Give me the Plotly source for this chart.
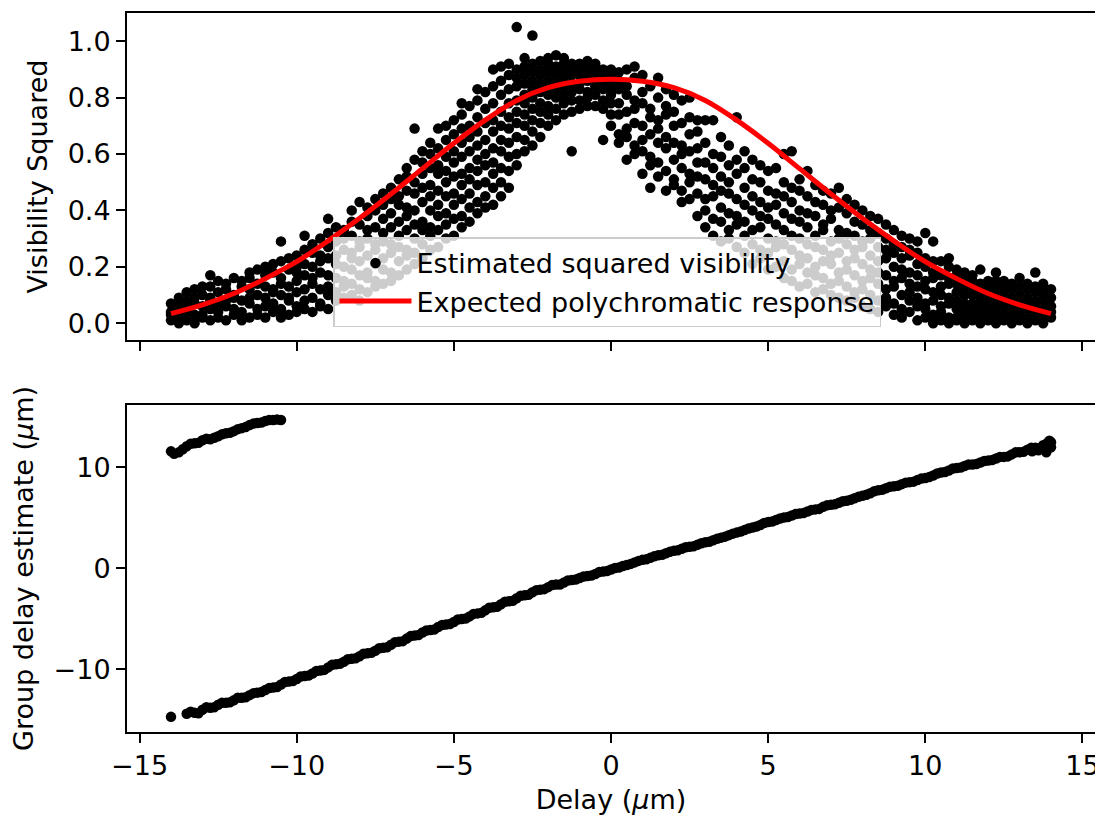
import plotly.graph_objects as go

# ---------------- data ----------------
# delay positions (micrometres) of the sampled columns of the visibility scatter
delay_grid = [
    -14.0, -13.75, -13.5, -13.25, -13.0, -12.75, -12.5, -12.25, -12.0, -11.75,
    -11.5, -11.25, -11.0, -10.75, -10.5, -10.25, -10.0, -9.75, -9.5, -9.25,
    -9.0, -8.75, -8.5, -8.25, -8.0, -7.75, -7.5, -7.25, -7.0, -6.75,
    -6.5, -6.25, -6.0, -5.75, -5.5, -5.25, -5.0, -4.75, -4.5, -4.25,
    -4.0, -3.75, -3.5, -3.25, -3.0, -2.75, -2.5, -2.25, -2.0, -1.75,
    -1.5, -1.25, -1.0, -0.75, -0.5, -0.25, 0.0, 0.25, 0.5, 0.75,
    1.0, 1.25, 1.5, 1.75, 2.0, 2.25, 2.5, 2.75, 3.0, 3.25,
    3.5, 3.75, 4.0, 4.25, 4.5, 4.75, 5.0, 5.25, 5.5, 5.75,
    6.0, 6.25, 6.5, 6.75, 7.0, 7.25, 7.5, 7.75, 8.0, 8.25,
    8.5, 8.75, 9.0, 9.25, 9.5, 9.75, 10.0, 10.25, 10.5, 10.75,
    11.0, 11.25, 11.5, 11.75, 12.0, 12.25, 12.5, 12.75, 13.0, 13.25,
    13.5, 13.75, 14.0,
]

# estimated squared visibility samples in each column (hundredths)
vis_samples = [
    [1, 3, 4, 7], [0, 2, 6, 9, 5], [1, 4, 5, 8, 11], [0, 3, 7, 9, 12],
    [2, 3, 6, 10, 13], [1, 5, 8, 9, 13, 17], [2, 4, 7, 11, 15], [1, 6, 8, 12, 14],
    [3, 5, 9, 10, 16], [1, 4, 8, 13, 15], [2, 7, 9, 12, 16, 18], [3, 5, 10, 14, 19],
    [2, 6, 9, 13, 17, 20], [4, 7, 11, 12, 18, 21], [2, 5, 10, 14, 16, 22, 29], [3, 8, 9, 13, 19, 23],
    [4, 6, 11, 15, 18, 20, 24], [5, 8, 12, 17, 21, 26, 31], [4, 9, 14, 16, 20, 25, 28], [6, 7, 12, 18, 22, 24, 30],
    [5, 10, 13, 17, 23, 27, 32, 37], [8, 11, 16, 21, 24, 29, 34], [9, 13, 15, 20, 26, 30, 33], [10, 14, 19, 23, 25, 31, 36, 40],
    [8, 12, 17, 22, 27, 29, 35, 43], [11, 16, 18, 24, 30, 33, 38, 41], [13, 15, 21, 26, 28, 34, 40, 44], [14, 19, 23, 29, 32, 37, 42, 46],
    [15, 18, 25, 28, 34, 39, 44, 48], [17, 22, 27, 31, 36, 42, 45, 51], [19, 24, 26, 33, 38, 41, 47, 52, 55], [21, 25, 30, 35, 40, 46, 50, 58, 69],
    [23, 28, 33, 36, 43, 48, 53, 57, 61], [26, 31, 34, 40, 45, 49, 55, 60, 64], [27, 33, 38, 42, 47, 53, 56, 62, 69], [30, 35, 39, 45, 50, 54, 59, 65, 70],
    [31, 37, 42, 46, 52, 57, 61, 67, 72], [34, 38, 44, 49, 53, 59, 64, 69, 74, 78], [36, 41, 46, 51, 55, 61, 66, 70, 77], [39, 43, 49, 54, 58, 63, 68, 73, 79, 83],
    [41, 45, 50, 56, 60, 65, 71, 76, 82], [42, 48, 53, 57, 62, 68, 72, 78, 84, 90], [45, 50, 55, 61, 65, 70, 75, 81, 86, 91], [48, 54, 59, 64, 69, 73, 78, 83, 88, 92],
    [56, 60, 66, 71, 75, 79, 84, 87, 90, 105], [61, 65, 70, 74, 78, 81, 85, 88, 91, 94], [63, 68, 72, 76, 80, 83, 86, 89, 92, 102], [66, 71, 75, 78, 82, 85, 88, 90, 93],
    [70, 74, 77, 81, 84, 86, 89, 92, 94], [72, 76, 80, 83, 85, 88, 91, 95], [74, 78, 81, 84, 87, 89, 92, 94], [61, 75, 79, 82, 85, 88, 90, 92],
    [76, 79, 83, 85, 88, 90, 92], [77, 80, 82, 86, 88, 91, 93], [77, 81, 84, 86, 89, 92], [65, 76, 79, 83, 86, 88, 90],
    [70, 74, 78, 81, 84, 87, 90], [64, 67, 74, 78, 83, 86, 89], [58, 66, 69, 75, 81, 84, 90], [60, 63, 71, 76, 79, 87, 91],
    [53, 61, 65, 70, 78, 82, 88], [48, 56, 59, 67, 73, 76, 84], [52, 57, 64, 69, 72, 80, 87], [47, 54, 62, 66, 74, 77, 83],
    [49, 51, 58, 64, 70, 75, 81], [43, 47, 55, 60, 63, 71, 79], [44, 50, 53, 61, 67, 73, 80], [38, 46, 52, 57, 62, 68, 72],
    [34, 40, 44, 51, 57, 64, 72], [31, 37, 45, 49, 55, 60, 72], [29, 36, 41, 47, 52, 59, 66], [30, 33, 39, 46, 50, 56, 63],
    [27, 35, 38, 44, 53, 58, 73], [25, 31, 36, 42, 48, 55, 61], [21, 28, 33, 40, 45, 51, 58], [23, 26, 34, 38, 43, 50, 56],
    [19, 25, 30, 37, 41, 47, 54], [20, 27, 29, 35, 42, 46, 55], [16, 22, 28, 33, 39, 45, 50, 60], [15, 19, 26, 31, 37, 43, 48, 61],
    [13, 21, 24, 30, 36, 40, 47, 51], [14, 18, 23, 28, 34, 39, 45, 54], [11, 17, 20, 27, 31, 38, 43, 49], [12, 16, 22, 26, 33, 35, 42, 47],
    [10, 14, 21, 24, 29, 37, 40, 46], [9, 15, 18, 25, 30, 33, 41, 48], [8, 13, 19, 22, 28, 32, 39, 44], [9, 11, 17, 23, 26, 31, 36, 42],
    [6, 12, 15, 21, 27, 29, 35, 40], [5, 10, 16, 19, 24, 30, 33, 38], [4, 8, 14, 18, 22, 27, 32, 37], [6, 9, 12, 17, 23, 26, 30, 35],
    [3, 7, 13, 15, 20, 25, 28, 33], [2, 5, 10, 16, 19, 23, 27, 31], [4, 8, 11, 14, 18, 24, 26, 30], [1, 6, 9, 13, 17, 21, 25, 29],
    [2, 5, 7, 12, 15, 20, 23, 32], [0, 3, 8, 11, 16, 18, 22, 29], [1, 4, 6, 10, 13, 17, 22], [0, 2, 7, 9, 14, 16, 20, 23],
    [1, 2, 5, 8, 11, 14, 17, 19], [0, 3, 5, 7, 10, 13, 16, 18], [1, 2, 4, 7, 10, 12, 15, 17], [0, 2, 4, 6, 9, 12, 14, 19],
    [1, 3, 5, 8, 11, 13, 15], [0, 2, 4, 7, 10, 12, 15, 18], [1, 3, 6, 8, 11, 13, 15], [0, 2, 4, 7, 9, 12, 14],
    [1, 3, 5, 8, 10, 13, 16], [0, 2, 5, 7, 9, 12, 14], [1, 3, 6, 8, 11, 13, 18], [0, 2, 4, 7, 10, 12, 14],
    [2, 4, 6, 9, 12],
]

# expected polychromatic response (red curve)
curve_delay = [-14, -13, -12, -11, -10, -9, -8, -7, -6, -5, -4, -3, -2, -1, 0,
               1, 2, 3, 4, 5, 6, 7, 8, 9, 10, 11, 12, 13, 14]
curve_vis = [0.034, 0.065, 0.105, 0.158, 0.218, 0.292, 0.372, 0.458, 0.548, 0.638,
             0.720, 0.790, 0.835, 0.858, 0.865, 0.858, 0.835, 0.790, 0.720, 0.638,
             0.548, 0.458, 0.372, 0.292, 0.218, 0.158, 0.105, 0.065, 0.034]

# group delay estimate, main branch
gd_main_delay = [
    -14.0, -13.5, -13.25, -13.0, -12.75, -12.5, -12.25, -12.0, -11.75,
    -11.5, -11.25, -11.0, -10.75, -10.5, -10.25, -10.0, -9.75, -9.5, -9.25,
    -9.0, -8.75, -8.5, -8.25, -8.0, -7.75, -7.5, -7.25, -7.0, -6.75,
    -6.5, -6.25, -6.0, -5.75, -5.5, -5.25, -5.0, -4.75, -4.5, -4.25,
    -4.0, -3.75, -3.5, -3.25, -3.0, -2.75, -2.5, -2.25, -2.0, -1.75,
    -1.5, -1.25, -1.0, -0.75, -0.5, -0.25, 0.0, 0.25, 0.5, 0.75,
    1.0, 1.25, 1.5, 1.75, 2.0, 2.25, 2.5, 2.75, 3.0, 3.25,
    3.5, 3.75, 4.0, 4.25, 4.5, 4.75, 5.0, 5.25, 5.5, 5.75,
    6.0, 6.25, 6.5, 6.75, 7.0, 7.25, 7.5, 7.75, 8.0, 8.25,
    8.5, 8.75, 9.0, 9.25, 9.5, 9.75, 10.0, 10.25, 10.5, 10.75,
    11.0, 11.25, 11.5, 11.75, 12.0, 12.25, 12.5, 12.75, 13.0, 13.25,
    13.5, 13.75, 14.0,
]
gd_main = [
    -14.7, -14.4, -14.3, -14.0, -13.8, -13.5, -13.3, -13.05, -12.8,
    -12.55, -12.3, -12.05, -11.8, -11.5, -11.2, -10.95, -10.65, -10.4, -10.1,
    -9.8, -9.5, -9.25, -8.95, -8.7, -8.4, -8.15, -7.85, -7.55, -7.25,
    -6.95, -6.65, -6.35, -6.1, -5.8, -5.55, -5.3, -5.0, -4.75, -4.45,
    -4.15, -3.85, -3.55, -3.25, -2.95, -2.65, -2.35, -2.1, -1.85, -1.6,
    -1.4, -1.15, -0.95, -0.75, -0.55, -0.3, -0.1, 0.1, 0.35, 0.6,
    0.85, 1.05, 1.3, 1.5, 1.75, 1.95, 2.15, 2.35, 2.6, 2.8,
    3.05, 3.3, 3.55, 3.8, 4.05, 4.3, 4.6, 4.8, 5.05, 5.25,
    5.45, 5.65, 5.85, 6.1, 6.3, 6.5, 6.7, 6.95, 7.2, 7.45,
    7.75, 7.95, 8.15, 8.35, 8.55, 8.75, 8.95, 9.2, 9.5, 9.7,
    9.95, 10.15, 10.3, 10.5, 10.7, 10.9, 11.05, 11.3, 11.5, 11.75,
    11.95, 12.2, 12.5,
]
# additional samples of the main branch between the columns above
gd_mid_delay = [
    -13.375, -13.125, -12.875, -12.625, -12.375, -12.125, -11.875, -11.625, -11.375, -11.125,
    -10.875, -10.625, -10.375, -10.125, -9.875, -9.625, -9.375, -9.125, -8.875, -8.625,
    -8.375, -8.125, -7.875, -7.625, -7.375, -7.125, -6.875, -6.625, -6.375, -6.125,
    -5.875, -5.625, -5.375, -5.125, -4.875, -4.625, -4.375, -4.125, -3.875, -3.625,
    -3.375, -3.125, -2.875, -2.625, -2.375, -2.125, -1.875, -1.625, -1.375, -1.125,
    -0.875, -0.625, -0.375, -0.125, 0.125, 0.375, 0.625, 0.875, 1.125, 1.375,
    1.625, 1.875, 2.125, 2.375, 2.625, 2.875, 3.125, 3.375, 3.625, 3.875,
    4.125, 4.375, 4.625, 4.875, 5.125, 5.375, 5.625, 5.875, 6.125, 6.375,
    6.625, 6.875, 7.125, 7.375, 7.625, 7.875, 8.125, 8.375, 8.625, 8.875,
    9.125, 9.375, 9.625, 9.875, 10.125, 10.375, 10.625, 10.875, 11.125, 11.375,
    11.625, 11.875, 12.125, 12.375, 12.625, 12.875, 13.125, 13.375, 13.625, 13.875,
]
gd_mid = [
    -14.2, -14.35, -13.75, -13.75, -13.3, -13.25, -12.8, -12.75, -12.35, -12.25,
    -11.85, -11.75, -11.25, -11.15, -10.7, -10.6, -10.15, -10.05, -9.55, -9.45,
    -9.0, -8.9, -8.45, -8.35, -7.9, -7.8, -7.3, -7.2, -6.7, -6.6,
    -6.15, -6.05, -5.6, -5.5, -5.05, -4.95, -4.5, -4.4, -3.9, -3.8,
    -3.3, -3.2, -2.7, -2.6, -2.15, -2.05, -1.65, -1.6, -1.2, -1.1,
    -0.8, -0.7, -0.35, -0.25, 0.05, 0.25, 0.45, 0.75, 0.9, 1.2,
    1.35, 1.65, 1.8, 2.1, 2.2, 2.5, 2.65, 2.95, 3.15, 3.45,
    3.65, 3.95, 4.15, 4.5, 4.65, 4.95, 5.1, 5.4, 5.5, 5.8,
    5.9, 6.25, 6.35, 6.65, 6.8, 7.1, 7.3, 7.65, 7.8, 8.1,
    8.2, 8.5, 8.6, 8.9, 9.05, 9.4, 9.55, 9.9, 10.0, 10.3,
    10.35, 10.65, 10.75, 11.05, 11.1, 11.5, 11.55, 11.95, 11.9, 12.4,
]
# scattered points at the right end of the main branch
gd_end_delay = [13.6, 13.85, 13.95, 14.0, 13.4]
gd_end = [11.7, 11.5, 12.65, 12.0, 11.6]

# wrapped branch (top-left of the lower panel)
gd_wrap_delay = [-14.0, -13.9, -13.75, -13.625, -13.5, -13.375, -13.25, -13.125, -13.0, -12.875,
                 -12.75, -12.625, -12.5, -12.375, -12.25, -12.125, -12.0, -11.875, -11.75, -11.625,
                 -11.5, -11.375, -11.25, -11.125, -11.0, -10.875, -10.75, -10.625, -10.5]
gd_wrap = [11.6, 11.35, 11.5, 11.8, 12.1, 12.35, 12.4, 12.45, 12.7, 12.85,
           12.8, 12.95, 13.1, 13.3, 13.4, 13.45, 13.6, 13.8, 13.9, 14.0,
           14.2, 14.35, 14.4, 14.45, 14.6, 14.7, 14.7, 14.75, 14.7]

# ---------------- figure ----------------
vis_x, vis_y = [], []
for d, col in zip(delay_grid, vis_samples):
    for v in col:
        vis_x.append(d)
        vis_y.append(v / 100.0)

FONT = "DejaVu Sans"
FS = 27
MS = 10.5

fig = go.Figure()
fig.add_trace(go.Scatter(x=vis_x, y=vis_y, mode="markers", xaxis="x2", yaxis="y2",
                         marker=dict(color="black", size=MS, line=dict(width=0)),
                         name="Estimated squared visibility"))
fig.add_trace(go.Scatter(x=curve_delay, y=curve_vis, mode="lines", xaxis="x2", yaxis="y2",
                         line=dict(color="red", width=5, shape="spline"),
                         name="Expected polychromatic response"))
fig.add_trace(go.Scatter(x=gd_main_delay + gd_mid_delay + gd_end_delay + gd_wrap_delay,
                         y=gd_main + gd_mid + gd_end + gd_wrap, mode="markers",
                         marker=dict(color="black", size=MS, line=dict(width=0)),
                         showlegend=False))

axis_common = dict(showline=True, mirror=True, linecolor="black", linewidth=2,
                   ticks="outside", ticklen=9, tickwidth=2, tickcolor="black",
                   showgrid=False, zeroline=False,
                   tickfont=dict(family=FONT, size=FS, color="black"))

# the page body adds an 8 px offset, so the figure is drawn 8 px smaller
W, H = 1095, 808
ml, mr, mt, mb = 119, 8, 3, 84
ph = H - mt - mb          # plot area spans screen y 11 .. 732
pw = W - ml - mr          # plot area spans screen x 127 .. 1095
top_low = (732 - 339) / ph
bot_high = (732 - 404) / ph

fig.update_layout(
    width=W, height=H,
    margin=dict(l=ml, r=mr, t=mt, b=mb),
    paper_bgcolor="white", plot_bgcolor="white",
    font=dict(family=FONT, size=FS, color="black"),
    xaxis=dict(axis_common, domain=[0, 1], range=[-15.4, 15.4],
               tickvals=[-15, -10, -5, 0, 5, 10, 15], anchor="y",
               title=dict(text="Delay (<i>μ</i>m)", font=dict(family=FONT, size=FS), standoff=10)),
    yaxis=dict(axis_common, domain=[0, bot_high], range=[-16.2, 16.2],
               tickvals=[-10, 0, 10], anchor="x",
               title=dict(text="Group delay estimate (<i>μ</i>m)", font=dict(family=FONT, size=FS), standoff=14)),
    xaxis2=dict(axis_common, domain=[0, 1], range=[-15.4, 15.4],
                tickvals=[-15, -10, -5, 0, 5, 10, 15], showticklabels=False, anchor="y2"),
    yaxis2=dict(axis_common, domain=[top_low, 1], range=[-0.06, 1.10],
                tickvals=[0, 0.2, 0.4, 0.6, 0.8, 1.0], ticktext=["0.0", "0.2", "0.4", "0.6", "0.8", "1.0"],
                anchor="x2",
                title=dict(text="Visibility Squared", font=dict(family=FONT, size=FS), standoff=12)),
    legend=dict(x=(333 - 127) / pw, y=(732 - 236) / ph, xanchor="left", yanchor="top",
                bgcolor="rgba(255,255,255,0.8)", bordercolor="#cccccc", borderwidth=1.5,
                font=dict(family=FONT, size=FS, color="black"), itemwidth=72,
                tracegroupgap=0),
    showlegend=True,
)

fig.write_html("out.html")
